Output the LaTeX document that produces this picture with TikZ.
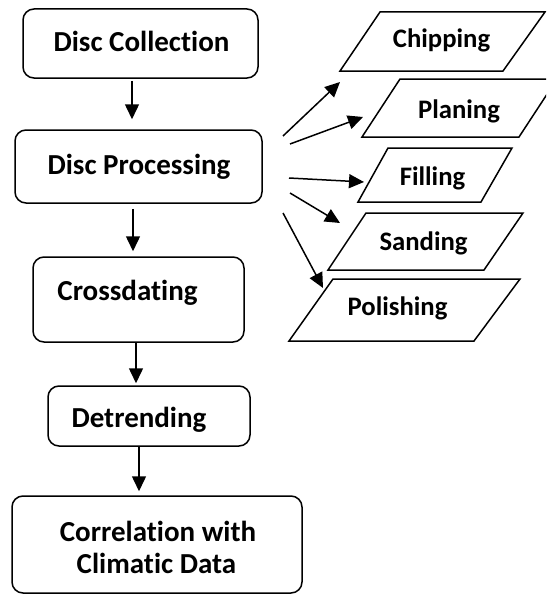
\documentclass[tikz,border=0pt]{standalone}
\usepackage{fontspec}
\setmainfont{Carlito}[Ligatures={NoCommon}]
\usetikzlibrary{arrows.meta}
\tikzset{
  box/.style={draw, line width=1.5pt, rounded corners=11pt, inner sep=0pt},
  para/.style={draw, line width=1.5pt, line join=miter},
  arr/.style={line width=1.5pt, -{Triangle[length=15pt,width=14pt]}},
  big/.style={inner sep=0pt, anchor=base, font=\fontsize{29}{31}\selectfont\bfseries},
  small/.style={inner sep=0pt, anchor=base, font=\fontsize{26.7}{30}\selectfont\bfseries},
}
\begin{document}
\begin{tikzpicture}[x=1pt,y=-1pt]
\useasboundingbox (0,0) rectangle (546,594);
\clip (0,0) rectangle (546,594);
\fill[white] (0,0) rectangle (546,594);

% main boxes
\node[box, minimum width=235pt, minimum height=69pt] (dc) at (140.5,43.5) {};
\node[box, minimum width=247pt, minimum height=73pt] (dp) at (138.5,166.5) {};
\node[box, minimum width=211pt, minimum height=85pt] (cd) at (138.5,299.5) {};
\node[box, minimum width=202pt, minimum height=60pt] (dt) at (149,416) {};
\node[box, minimum width=290pt, minimum height=97pt] (cr) at (157,544.5) {};

\node[big] (tdc) at (141.5,52) {Disc Collection};
\node[big] (tdp) at (139,174) {Disc Processing};
\node[big] (tcd) at (127.5,300) {Crossdating};
\node[big] (tdt) at (139,427) {Detrending};
\node[big] (tcr1) at (158,541) {Correlation with};
\node[big] (tcr2) at (156.5,573) {Climatic Data};

% vertical arrows
\draw[arr] ([xshift=-8.5pt,yshift=-2pt]dc.south) -- ([xshift=-6.5pt,yshift=10pt]dp.north);
\draw[arr] ([xshift=-5.5pt,yshift=-5pt]dp.south) -- ([xshift=-5.5pt,yshift=5pt]cd.north);
\draw[arr] ([xshift=-2.5pt]cd.south) -- ([xshift=-13pt,yshift=2pt]dt.north);
\draw[arr] ([xshift=-10pt]dt.south) -- ([xshift=-18pt,yshift=4pt]cr.north);

% parallelograms
\draw[para] (380,12) coordinate (ch1) -- (545,12) -- (503,71) -- (340,71) -- cycle;
\draw[para] (400,79) coordinate (pl1) -- (557,79) -- (519,137) -- (362,137) -- cycle;
\draw[para] (388,148) coordinate (fi1) -- (512,148) -- (481,202) -- (358,202) -- cycle;
\draw[para] (366,213) coordinate (sa1) -- (523,213) -- (484,270) -- (328,270) -- cycle;
\draw[para] (333,279) coordinate (po1) -- (520,279) -- (474,341) -- (289,341) -- cycle;

\node[small] (tch) at (441.5,48) {Chipping};
\node[small] (tpl) at (459,118) {Planing};
\node[small] (tfi) at (432.5,185) {Filling};
\node[small] (tsa) at (423.5,250) {Sanding};
\node[small] (tpo) at (397.5,315) {Polishing};

% branch arrows
\coordinate (s1) at (283,136); \coordinate (e1) at (340,82);
\coordinate (s2) at (290,144); \coordinate (e2) at (363,117);
\coordinate (s3) at (289,178); \coordinate (e3) at (364,182);
\coordinate (s4) at (290,193); \coordinate (e4) at (340,223);
\coordinate (s5) at (283,213); \coordinate (e5) at (323,288);
\draw[arr] (s1) -- (e1);
\draw[arr] (s2) -- (e2);
\draw[arr] (s3) -- (e3);
\draw[arr] (s4) -- (e4);
\draw[arr] (s5) -- (e5);
\end{tikzpicture}
\end{document}
